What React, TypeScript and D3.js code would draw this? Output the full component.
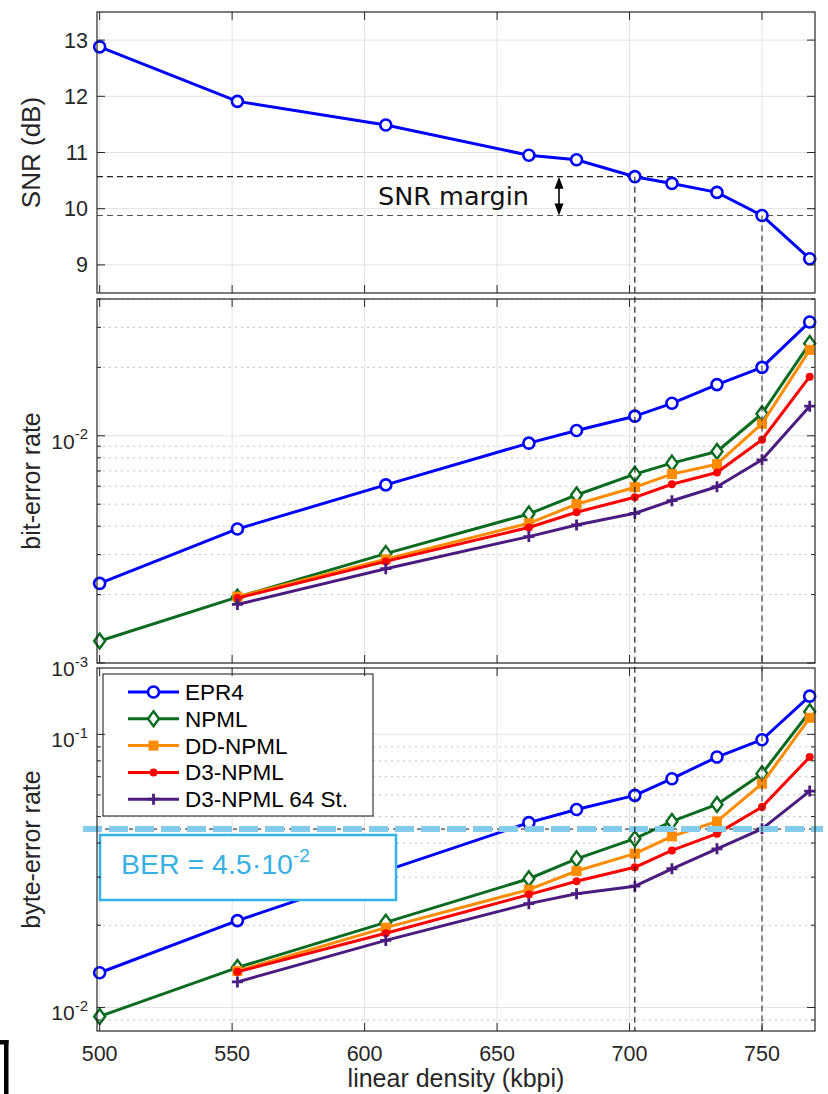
import React from "react";
import * as d3 from "d3";

// linear density (kbpi) of every measured point
const density = [500, 552, 608, 662, 680, 702, 716, 733, 750, 768];

// top panel
const snrDb = [12.88, 11.91, 11.49, 10.95, 10.87, 10.57, 10.45, 10.29, 9.88, 9.11];

// middle panel, bit-error rate
const berEPR4 = [2.24e-3, 3.89e-3, 6.08e-3, 9.28e-3, 1.055e-2, 1.22e-2, 1.39e-2, 1.68e-2, 2.0e-2, 3.17e-2];
const berNPML = [1.25e-3, 1.95e-3, 3.03e-3, 4.53e-3, 5.49e-3, 6.78e-3, 7.58e-3, 8.53e-3, 1.25e-2, 2.55e-2];
const berDD = [null, 1.96e-3, 2.86e-3, 4.12e-3, 5.0e-3, 5.94e-3, 6.78e-3, 7.5e-3, 1.13e-2, 2.39e-2];
const berD3 = [null, 1.93e-3, 2.8e-3, 3.95e-3, 4.61e-3, 5.36e-3, 6.12e-3, 6.89e-3, 9.6e-3, 1.82e-2];
const berD3s64 = [null, 1.81e-3, 2.6e-3, 3.6e-3, 4.05e-3, 4.56e-3, 5.18e-3, 5.97e-3, 7.84e-3, 1.35e-2];

// bottom panel, byte-error rate
const byteEPR4 = [1.34e-2, 2.08e-2, 3.17e-2, 4.75e-2, 5.31e-2, 5.98e-2, 6.88e-2, 8.26e-2, 9.56e-2, 0.138];
const byteNPML = [9.27e-3, 1.4e-2, 2.05e-2, 2.96e-2, 3.5e-2, 4.15e-2, 4.8e-2, 5.54e-2, 7.18e-2, 0.121];
const byteDD = [null, 1.36e-2, 1.96e-2, 2.7e-2, 3.16e-2, 3.66e-2, 4.23e-2, 4.8e-2, 6.6e-2, 0.115];
const byteD3 = [null, 1.35e-2, 1.87e-2, 2.59e-2, 2.9e-2, 3.26e-2, 3.76e-2, 4.33e-2, 5.42e-2, 8.26e-2];
const byteD3s64 = [null, 1.24e-2, 1.76e-2, 2.4e-2, 2.61e-2, 2.78e-2, 3.22e-2, 3.81e-2, 4.51e-2, 6.2e-2];

const seriesNames = ["EPR4", "NPML", "DD-NPML", "D3-NPML", "D3-NPML 64 St."];
const seriesColors = ["#0000ff", "#0b6b1f", "#ff8c00", "#ff0000", "#4b1c80"];
const seriesMarkers = ["circle", "diamond", "square", "dot", "plus"];

const xTicks = [500, 550, 600, 650, 700, 750];
const snrTicks = [9, 10, 11, 12, 13];
const berTarget = 4.5e-2;
const marginIdx = [5, 8]; // 702 and 750 kbpi

const font = "'Liberation Sans', Arial, Helvetica, sans-serif";
const axisCol = "#262626";

const L = 97, R = 815;
const x = d3.scaleLinear().domain([499, 770]).range([L, R]);
const ySnr = d3.scaleLinear().domain([8.5, 13.5]).range([293, 12]);
const yBer = d3.scaleLog().domain([1e-3, 4e-2]).range([663, 299]);
const yByte = d3.scaleLog().domain([8.2e-3, 0.175]).range([1031, 668]);

function logTicks(dom: number[]) {
  const major: number[] = [], minor: number[] = [];
  const [lo, hi] = dom;
  for (let e = Math.floor(Math.log10(lo)); e <= Math.ceil(Math.log10(hi)); e++) {
    for (let k = 1; k <= 9; k++) {
      const v = k * Math.pow(10, e);
      if (v < lo * 0.999 || v > hi * 1.001) continue;
      (k === 1 ? major : minor).push(v);
    }
  }
  return { major, minor };
}

function Marker({ type, cx, cy, color }: any) {
  if (type === "circle")
    return <circle cx={cx} cy={cy} r={5.5} fill="#fff" stroke={color} strokeWidth={2.6} />;
  if (type === "diamond")
    return <path d={`M${cx},${cy - 7.5}L${cx + 5.5},${cy}L${cx},${cy + 7.5}L${cx - 5.5},${cy}Z`} fill="#fff" stroke={color} strokeWidth={2.4} />;
  if (type === "square")
    return <rect x={cx - 4.5} y={cy - 4.5} width={9} height={9} fill={color} stroke={color} strokeWidth={1} />;
  if (type === "dot") return <circle cx={cx} cy={cy} r={4} fill={color} />;
  return <path d={`M${cx - 5.5},${cy}H${cx + 5.5}M${cx},${cy - 5.5}V${cy + 5.5}`} stroke={color} strokeWidth={2.8} />;
}

function Series({ vals, y, i }: any) {
  const pts = density.map((d, j) => [d, vals[j]]).filter((p) => p[1] != null) as [number, number][];
  const line = d3.line<[number, number]>().x((p) => x(p[0])).y((p) => y(p[1]));
  return (
    <g>
      <path d={line(pts) || ""} fill="none" stroke={seriesColors[i]} strokeWidth={3} strokeLinejoin="round" />
      {pts.map((p, j) => (
        <Marker key={j} type={seriesMarkers[i]} cx={x(p[0])} cy={y(p[1])} color={seriesColors[i]} />
      ))}
    </g>
  );
}

function Frame({ y, log }: any) {
  const [b, t] = y.range();
  const vx = xTicks.map((v) => x(v));
  let majors: number[] = [], minors: number[] = [];
  if (log) {
    const tk = logTicks(y.domain());
    majors = tk.major; minors = tk.minor;
  } else majors = snrTicks;
  return (
    <g>
      <rect x={L} y={t} width={R - L} height={b - t} fill="#fff" />
      {minors.map((v, i) => (
        <line key={"mg" + i} x1={L} x2={R} y1={y(v)} y2={y(v)} stroke="#c4c4c4" strokeWidth={1} strokeDasharray="2 4" />
      ))}
      {majors.map((v, i) => (
        <line key={"g" + i} x1={L} x2={R} y1={y(v)} y2={y(v)} stroke="#e2e2e2" strokeWidth={1} />
      ))}
      {vx.map((px, i) => (
        <line key={"vg" + i} x1={px} x2={px} y1={t} y2={b} stroke="#e2e2e2" strokeWidth={1} />
      ))}
    </g>
  );
}

function FrameTop({ y, log, showX }: any) {
  const [b, t] = y.range();
  let majors: number[] = [], minors: number[] = [];
  if (log) {
    const tk = logTicks(y.domain());
    majors = tk.major; minors = tk.minor;
  } else majors = snrTicks;
  return (
    <g>
      <rect x={L} y={t} width={R - L} height={b - t} fill="none" stroke={axisCol} strokeWidth={1.2} />
      {xTicks.map((v, i) => (
        <g key={"xt" + i}>
          <line x1={x(v)} x2={x(v)} y1={b} y2={b - 8} stroke={axisCol} />
          <line x1={x(v)} x2={x(v)} y1={t} y2={t + 8} stroke={axisCol} />
          {showX && (
            <text x={x(v)} y={1061} textAnchor="middle" fontSize={21.5} fontFamily={font} fill={axisCol}>{v}</text>
          )}
        </g>
      ))}
      {minors.map((v, i) => (
        <g key={"mt" + i}>
          <line x1={L} x2={L + 4} y1={y(v)} y2={y(v)} stroke={axisCol} />
          <line x1={R} x2={R - 4} y1={y(v)} y2={y(v)} stroke={axisCol} />
        </g>
      ))}
      {majors.map((v, i) => (
        <g key={"t" + i}>
          <line x1={L} x2={L + 8} y1={y(v)} y2={y(v)} stroke={axisCol} />
          <line x1={R} x2={R - 8} y1={y(v)} y2={y(v)} stroke={axisCol} />
          {log ? (
            <text x={88} y={y(v) + 13} textAnchor="end" fontSize={21} fontFamily={font} fill={axisCol}>
              <tspan>10</tspan>
              <tspan dy={-9.5} fontSize={15}>{Math.round(Math.log10(v))}</tspan>
            </text>
          ) : (
            <text x={88} y={y(v) + 7.5} textAnchor="end" fontSize={21.5} fontFamily={font} fill={axisCol}>{v}</text>
          )}
        </g>
      ))}
    </g>
  );
}

const berSeries = [berEPR4, berNPML, berDD, berD3, berD3s64];
const byteSeries = [byteEPR4, byteNPML, byteDD, byteD3, byteD3s64];

export default function App() {
  const yUp = ySnr(snrDb[marginIdx[0]]);
  const yLo = ySnr(snrDb[marginIdx[1]]);
  const arrowX = 559;
  const yTarget = yByte(berTarget);
  return (
    <svg width={828} height={1094} style={{ position: "absolute", left: 0, top: 0, background: "#fff" }}>
      <rect width={828} height={1094} fill="#fff" />
      {/* top panel: SNR */}
      <Frame y={ySnr} log={false} />
      <line x1={L} x2={R} y1={yUp} y2={yUp} stroke="#222" strokeWidth={1.1} strokeDasharray="6 4" />
      <line x1={L} x2={R} y1={yLo} y2={yLo} stroke="#555" strokeWidth={1.1} strokeDasharray="6 4" />
      <path d={d3.line<number>().x((_, j) => x(density[j])).y((v) => ySnr(v))(snrDb) || ""} fill="none" stroke="#0000ff" strokeWidth={3} />
      {snrDb.map((v, j) => (
        <Marker key={j} type="circle" cx={x(density[j])} cy={ySnr(v)} color="#0000ff" />
      ))}
      <line x1={arrowX} x2={arrowX} y1={yUp + 8} y2={yLo - 8} stroke="#000" strokeWidth={1.6} />
      <path d={`M${arrowX},${yUp}L${arrowX - 4.5},${yUp + 12}L${arrowX + 4.5},${yUp + 12}Z`} fill="#000" />
      <path d={`M${arrowX},${yLo}L${arrowX - 4.5},${yLo - 12}L${arrowX + 4.5},${yLo - 12}Z`} fill="#000" />
      <text x={arrowX - 30} y={205} textAnchor="end" fontSize={25.5} fontFamily="'DejaVu Sans', sans-serif" fill="#111">SNR margin</text>
      <FrameTop y={ySnr} log={false} />

      {/* middle panel: bit-error rate */}
      <Frame y={yBer} log />
      {berSeries.map((s, i) => <Series key={i} vals={s} y={yBer} i={i} />)}
      <FrameTop y={yBer} log />

      {/* bottom panel: byte-error rate */}
      <Frame y={yByte} log />
      {byteSeries.map((s, i) => <Series key={i} vals={s} y={yByte} i={i} />)}
      <line x1={L} x2={R} y1={yTarget} y2={yTarget} stroke="#111" strokeWidth={1} strokeDasharray="4 4" />
      <line x1={83} x2={823} y1={yTarget} y2={yTarget} stroke="#84ccee" strokeWidth={6} strokeDasharray="19 7" />
      <rect x={100} y={835} width={296} height={65} fill="#fff" stroke="#35b3e8" strokeWidth={2.5} />
      <text x={121} y={874} fontSize={28.5} fontFamily={font} fill="#38b0e4">
        <tspan>BER = 4.5·10</tspan>
        <tspan dy={-12} fontSize={19}>-2</tspan>
      </text>
      <g>
        <rect x={103} y={674} width={270} height={142} fill="#fff" stroke="#111" strokeWidth={1} />
        {seriesNames.map((n, i) => {
          const yy = 692 + i * 26.8;
          return (
            <g key={n}>
              <line x1={128} x2={179} y1={yy} y2={yy} stroke={seriesColors[i]} strokeWidth={3} />
              <Marker type={seriesMarkers[i]} cx={153.5} cy={yy} color={seriesColors[i]} />
              <text x={185} y={yy + 8} fontSize={22.5} fontFamily={font} fill="#000">{n}</text>
            </g>
          );
        })}
      </g>
      <FrameTop y={yByte} log showX />

      {/* vertical markers at 702 and 750 kbpi */}
      <line x1={x(density[marginIdx[0]])} x2={x(density[marginIdx[0]])} y1={yUp} y2={1031} stroke="#111" strokeWidth={1.1} strokeDasharray="6 4" />
      <line x1={x(density[marginIdx[1]])} x2={x(density[marginIdx[1]])} y1={yLo} y2={1031} stroke="#333" strokeWidth={1.1} strokeDasharray="6 4" />

      {/* axis labels */}
      <text transform={`translate(40,${(12 + 293) / 2}) rotate(-90)`} textAnchor="middle" fontSize={26} fontFamily={font} fill={axisCol}>SNR (dB)</text>
      <text transform={`translate(40,${(299 + 663) / 2}) rotate(-90)`} textAnchor="middle" fontSize={25} fontFamily={font} fill={axisCol}>bit-error rate</text>
      <text transform={`translate(40,${(668 + 1031) / 2}) rotate(-90)`} textAnchor="middle" fontSize={25} fontFamily={font} fill={axisCol}>byte-error rate</text>
      <text x={456} y={1087} textAnchor="middle" fontSize={25} fontFamily={font} fill={axisCol}>linear density (kbpi)</text>

      {/* cropped bracket at the lower left edge */}
      <rect x={0} y={1040} width={8.5} height={4.5} fill="#000" />
      <rect x={4} y={1040} width={4.5} height={54} fill="#000" />
    </svg>
  );
}
